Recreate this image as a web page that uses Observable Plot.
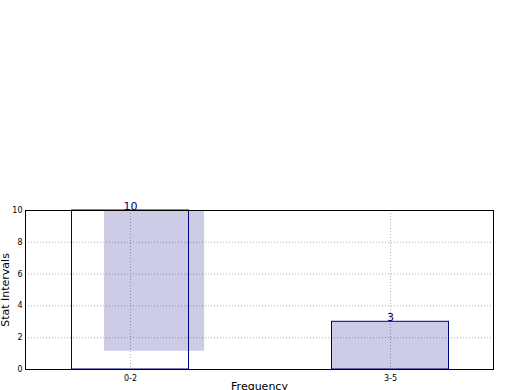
<!DOCTYPE html>
<html>
<head>
<meta charset="utf-8">
<script src="https://cdn.jsdelivr.net/npm/d3@7"></script>
<script src="https://cdn.jsdelivr.net/npm/@observablehq/plot@0.6"></script>
<style>
  html, body { margin: 0; padding: 0; background: #fff; }
  #chart svg { display: block; }
</style>
</head>
<body>
<div id="chart"></div>
<script>
// Data
const categories = ["0-2", "3-5"];
const values = [10, 3];
const yTicks = [0, 2, 4, 6, 8, 10];
// The first bar's shaded fill is drawn offset from its outline in the reference
const fillLeft = [-0.1, -0.225];
const fillRight = [0.285, 0.225];
const fillBottom = [1.15, 0];
const barHalfWidth = 0.225;

const bars = categories.map((c, i) => ({
  cat: c, i, value: values[i],
  fx1: i + fillLeft[i], fx2: i + fillRight[i], fy1: fillBottom[i]
}));

const fontFamily = "DejaVu Sans, sans-serif";

const chart = Plot.plot({
  width: 520,
  height: 390,
  marginLeft: 25,
  marginRight: 27,
  marginTop: 210,
  marginBottom: 21,
  style: { fontFamily, fontSize: "8px", background: "#fff", color: "#000" },
  x: { domain: [-105 / 260, 1 + 103 / 260], axis: null },
  y: { domain: [0, 10], axis: null },
  marks: [
    // grid
    Plot.ruleY(yTicks.slice(1, -1), { stroke: "#b0b0b0", strokeDasharray: "1,2", strokeWidth: 1 }),
    Plot.ruleX(categories.map((c, i) => i), { stroke: "#b0b0b0", strokeDasharray: "1,2", strokeWidth: 1 }),
    // fills
    Plot.rectY(bars, { x1: "fx1", x2: "fx2", y1: "fy1", y2: "value", fill: "navy", fillOpacity: 0.2 }),
    // outlines
    Plot.rectY(bars, { x1: d => d.i - barHalfWidth, x2: d => d.i + barHalfWidth, y1: 0, y2: "value",
      fill: "none", stroke: "navy", strokeWidth: 1 }),
    // value labels
    Plot.text(bars, { x: "i", y: "value", text: d => String(d.value), lineAnchor: "bottom", dy: -1,
      fill: "navy", fontSize: 11 }),
    // frame
    Plot.frame({ stroke: "#000", strokeWidth: 1 }),
    // axes
    Plot.axisX(categories.map((c, i) => i), { tickFormat: i => categories[i], tickSize: 0, tickPadding: 6, fontSize: 8, label: null }),
    Plot.axisY(yTicks, { tickSize: 0, tickPadding: 3, fontSize: 8, label: null }),
    Plot.text(["Frequency"], { frameAnchor: "bottom", dy: 20, fontSize: 11, fill: "#000" }),
    Plot.text(["Stat Intervals"], { frameAnchor: "left", textAnchor: "middle", dx: -20, rotate: -90, fontSize: 11, fill: "#000" })
  ]
});
document.getElementById("chart").appendChild(chart);
</script>
</body>
</html>
